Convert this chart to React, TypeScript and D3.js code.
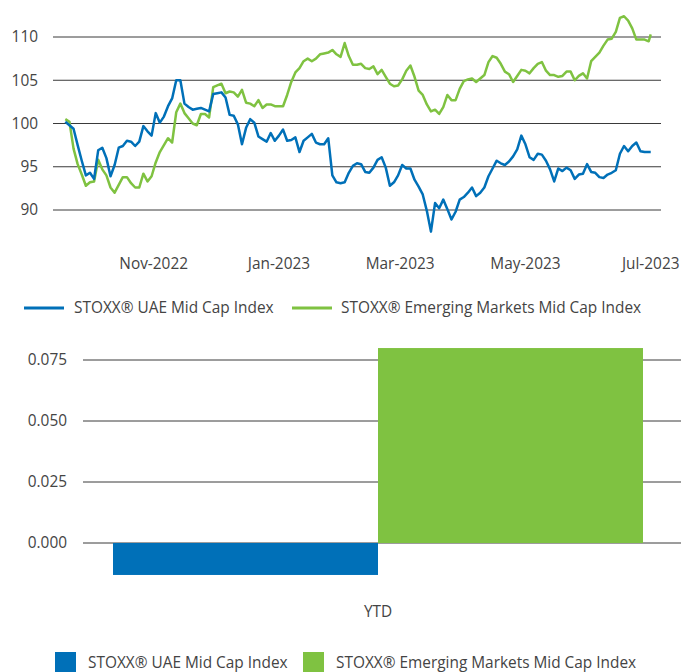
import * as d3 from "d3";
import React from "react";

// shared dates for both index series (every other day)
const dates = [
  "2022-09-19","2022-09-21","2022-09-23","2022-09-25","2022-09-27","2022-09-29",
  "2022-10-01","2022-10-03","2022-10-05","2022-10-07","2022-10-09","2022-10-11","2022-10-13","2022-10-15",
  "2022-10-17","2022-10-19","2022-10-21","2022-10-23","2022-10-25","2022-10-27","2022-10-29","2022-10-31",
  "2022-11-02","2022-11-04","2022-11-06","2022-11-08","2022-11-10","2022-11-12","2022-11-14","2022-11-16",
  "2022-11-18","2022-11-20","2022-11-22","2022-11-24","2022-11-26","2022-11-28","2022-11-30",
  "2022-12-02","2022-12-04","2022-12-06","2022-12-08","2022-12-10","2022-12-12","2022-12-14","2022-12-16",
  "2022-12-18","2022-12-20","2022-12-22","2022-12-24","2022-12-26","2022-12-28","2022-12-30",
  "2023-01-01","2023-01-03","2023-01-05","2023-01-07","2023-01-09","2023-01-11","2023-01-13","2023-01-15",
  "2023-01-17","2023-01-19","2023-01-21","2023-01-23","2023-01-25","2023-01-27","2023-01-29","2023-01-31",
  "2023-02-02","2023-02-04","2023-02-06","2023-02-08","2023-02-10","2023-02-12","2023-02-14","2023-02-16",
  "2023-02-18","2023-02-20","2023-02-22","2023-02-24","2023-02-26","2023-02-28",
  "2023-03-02","2023-03-04","2023-03-06","2023-03-08","2023-03-10","2023-03-12","2023-03-14","2023-03-16",
  "2023-03-18","2023-03-20","2023-03-22","2023-03-24","2023-03-26","2023-03-28","2023-03-30",
  "2023-04-01","2023-04-03","2023-04-05","2023-04-07","2023-04-09","2023-04-11","2023-04-13","2023-04-15",
  "2023-04-17","2023-04-19","2023-04-21","2023-04-23","2023-04-25","2023-04-27","2023-04-29",
  "2023-05-01","2023-05-03","2023-05-05","2023-05-07","2023-05-09","2023-05-11","2023-05-13","2023-05-15",
  "2023-05-17","2023-05-19","2023-05-21","2023-05-23","2023-05-25","2023-05-27","2023-05-29","2023-05-31",
  "2023-06-02","2023-06-04","2023-06-06","2023-06-08","2023-06-10","2023-06-12","2023-06-14","2023-06-16",
  "2023-06-18","2023-06-20","2023-06-22","2023-06-24","2023-06-26","2023-06-28","2023-06-30","2023-07-01",
];

const uaeMidCap = [
  100.2, 99.8, 99.4, 97.5, 95.7, 94.0,
  94.3, 93.6, 96.9, 97.2, 96.0, 93.9, 95.2, 97.2, 97.4, 98.0, 97.9, 97.4, 97.9, 99.7, 99.1, 98.6,
  101.2, 100.1, 100.8, 102.0, 102.9, 105.0, 105.0, 102.3, 101.9, 101.6, 101.7, 101.8, 101.6, 101.4, 103.4,
  103.5, 103.6, 103.0, 101.0, 100.9, 99.9, 97.6, 99.5, 100.5, 100.1, 98.5, 98.2, 97.9, 98.9, 98.0,
  98.6, 99.3, 98.0, 98.1, 98.4, 96.7, 98.0, 98.4, 98.8, 97.8, 97.6, 97.6, 98.3, 94.0, 93.2, 93.1,
  93.2, 94.3, 95.1, 95.4, 95.3, 94.4, 94.3, 94.9, 95.8, 96.1, 94.9, 92.8, 93.2, 94.0,
  95.2, 94.8, 94.8, 93.5, 92.7, 91.8, 89.9, 87.5, 90.8, 90.2, 91.2, 90.1, 88.9, 89.8, 91.2,
  91.5, 92.0, 92.6, 91.6, 92.0, 92.6, 93.9, 94.8, 95.7, 95.4, 95.2, 95.6, 96.2, 97.0, 98.6,
  97.6, 96.1, 95.8, 96.5, 96.4, 95.7, 94.7, 93.3, 94.8, 94.5, 94.9, 94.6, 93.6, 94.1, 94.2, 95.3,
  94.4, 94.3, 93.8, 93.7, 94.1, 94.3, 94.6, 96.5, 97.4, 96.8, 97.4, 97.8, 96.8, 96.7, 96.7, 96.7,
];

const emMidCap = [
  100.5, 100.2, 97.1, 95.3, 94.1, 92.8,
  93.2, 93.3, 95.8, 94.7, 94.0, 92.6, 92.0, 92.9, 93.8, 93.8, 93.1, 92.6, 92.6, 94.2, 93.3, 93.9,
  95.5, 96.7, 97.5, 98.3, 97.8, 101.3, 102.3, 101.2, 100.6, 100.0, 99.8, 101.1, 101.1, 100.7, 104.2,
  104.4, 104.6, 103.5, 103.7, 103.6, 103.1, 103.9, 102.4, 102.3, 102.0, 102.7, 101.8, 102.2, 102.2, 102.0,
  102.0, 102.0, 103.3, 104.8, 105.9, 106.4, 107.2, 107.5, 107.2, 107.5, 108.0, 108.1, 108.2, 108.5, 108.0, 107.7,
  109.3, 107.8, 106.8, 106.8, 106.9, 106.4, 106.3, 106.6, 105.7, 106.2, 105.4, 104.6, 104.3, 104.4,
  105.1, 106.1, 106.7, 105.4, 103.8, 103.3, 102.2, 101.4, 101.6, 101.1, 101.9, 103.3, 102.7, 102.7, 104.0,
  104.9, 105.1, 105.2, 104.8, 105.2, 105.6, 107.1, 107.8, 107.6, 106.9, 106.0, 105.7, 104.8, 105.5, 106.2,
  106.1, 105.8, 106.4, 106.9, 107.1, 106.1, 105.6, 105.6, 105.4, 105.5, 106.0, 106.0, 105.0, 105.5, 105.8, 105.2,
  107.2, 107.7, 108.2, 109.0, 109.7, 109.8, 110.6, 112.2, 112.4, 111.9, 111.0, 109.7, 109.7, 109.7, 109.5, 110.3,
];

const lineTicks = [90, 95, 100, 105, 110];
const monthTicks = ["2022-11-01", "2023-01-01", "2023-03-01", "2023-05-01", "2023-07-01"];

const barCategories = ["YTD"];
const barSeries = ["STOXX® UAE Mid Cap Index", "STOXX® Emerging Markets Mid Cap Index"];
const barValues = [-0.0131, 0.0799];
const barTicks = [0, 0.025, 0.05, 0.075];

const BLUE = "#0070b8";
const GREEN = "#7fc241";
const TEXT = "#444";
const GRID = "#3a3a3a";
const FONT = "'Open Sans', sans-serif";
const FS = 15.4;

export default function App() {
  const parse = d3.timeParse("%Y-%m-%d");
  const fmt = d3.timeFormat("%b-%Y");

  // line chart scales
  const x = d3
    .scaleTime()
    .domain([parse("2022-09-13"), parse("2023-07-06")])
    .range([53, 661]);
  const y = d3.scaleLinear().domain([90, 110]).range([210, 37]);

  const line = d3
    .line()
    .x(d => x(d[0]))
    .y(d => y(d[1]));

  const uaePts = dates.map((d, i) => [parse(d), uaeMidCap[i]]);
  const emPts = dates.map((d, i) => [parse(d), emMidCap[i]]);

  // bar chart scales
  const bx = d3.scaleBand().domain(barCategories).range([83, 673]).paddingOuter(0.0566).paddingInner(0);
  const inner = d3.scaleBand().domain(barSeries).range([0, bx.bandwidth()]);
  const by = d3.scaleLinear().domain([0, 0.075]).range([543, 360]);

  return (
    <svg
      width={681}
      height={672}
      style={{ position: "absolute", left: 0, top: 0, fontFamily: FONT }}
    >
      {/* line chart gridlines */}
      {lineTicks.map(t => (
        <g key={t}>
          <line x1={53} x2={661} y1={y(t)} y2={y(t)} stroke={GRID} strokeWidth={1} />
          <text x={38} y={y(t)} dy="0.35em" textAnchor="end" fontSize={FS} fill={TEXT}>
            {t}
          </text>
        </g>
      ))}
      {monthTicks.map(m => (
        <text key={m} x={x(parse(m))} y={264} dy="0.35em" textAnchor="middle" fontSize={FS} fill={TEXT}>
          {fmt(parse(m))}
        </text>
      ))}

      <path d={line(emPts)} fill="none" stroke={GREEN} strokeWidth={2.5} strokeLinejoin="round" />
      <path d={line(uaePts)} fill="none" stroke={BLUE} strokeWidth={2.5} strokeLinejoin="round" />

      {/* line legend */}
      <line x1={24} x2={64} y1={308} y2={308} stroke={BLUE} strokeWidth={3} />
      <text x={74} y={308} dy="0.35em" fontSize={FS} fill={TEXT}>{barSeries[0]}</text>
      <line x1={292} x2={332} y1={308} y2={308} stroke={GREEN} strokeWidth={3} />
      <text x={341} y={308} dy="0.35em" fontSize={FS} fill={TEXT}>{barSeries[1]}</text>

      {/* bar chart */}
      {barTicks.map(t => (
        <g key={t}>
          <line x1={83} x2={681} y1={by(t)} y2={by(t)} stroke={GRID} strokeWidth={1} />
          <text x={67} y={by(t)} dy="0.35em" textAnchor="end" fontSize={FS} fill={TEXT}>
            {d3.format(".3f")(t)}
          </text>
        </g>
      ))}
      {barSeries.map((s, i) => {
        const v = barValues[i];
        const x0 = bx(barCategories[0]) + inner(s);
        return (
          <rect
            key={s}
            x={x0}
            width={inner.bandwidth()}
            y={Math.min(by(v), by(0))}
            height={Math.abs(by(v) - by(0))}
            fill={i === 0 ? BLUE : GREEN}
          />
        );
      })}
      {barCategories.map(c => (
        <text key={c} x={bx(c) + bx.bandwidth() / 2} y={612} dy="0.35em" textAnchor="middle" fontSize={FS} fill={TEXT}>
          {c}
        </text>
      ))}

      {/* bar legend */}
      <rect x={55} y={652} width={21} height={21} fill={BLUE} />
      <text x={88} y={663} dy="0.35em" fontSize={FS} fill={TEXT}>{barSeries[0]}</text>
      <rect x={303} y={652} width={21} height={21} fill={GREEN} />
      <text x={336} y={663} dy="0.35em" fontSize={FS} fill={TEXT}>{barSeries[1]}</text>
    </svg>
  );
}
